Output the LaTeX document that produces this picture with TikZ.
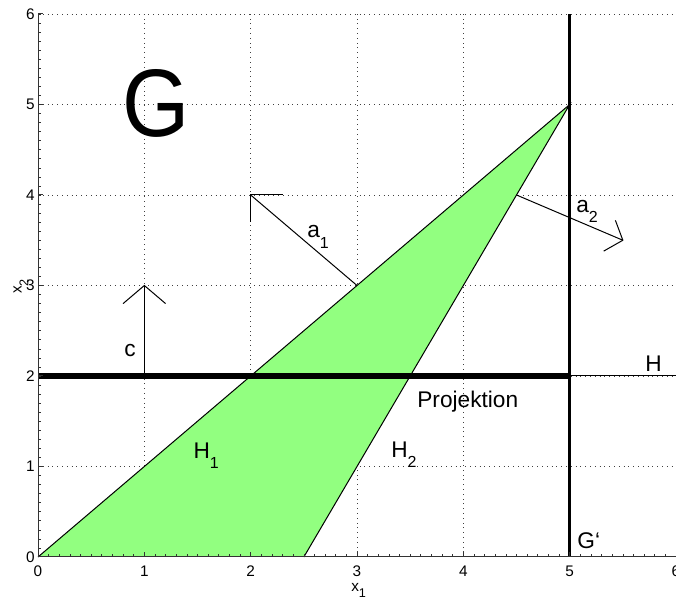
\documentclass[tikz,border=0pt]{standalone}
\usepackage{fontspec}
\setmainfont{Liberation Sans}
\definecolor{fillgreen}{RGB}{146,255,128}
\newcommand\lowsub[2]{\raisebox{-0.45em}{\fontsize{#1}{#1}\selectfont #2}}
\begin{document}
\begin{tikzpicture}[x=79.75pt,y=67.875pt,
  gridline/.style={draw=black!75, line width=0.6pt, dash pattern=on 0.6pt off 3pt},
  axisline/.style={draw=black!80, line width=0.75pt},
  vecline/.style={draw=black, line width=0.75pt},
  lbl/.style={inner sep=0pt, anchor=base west, font=\fontsize{17}{20}\selectfont},
  ticklbl/.style={inner sep=0pt, font=\fontsize{11.5}{13}\selectfont}]
\useasboundingbox (-0.3574,-0.4862) rectangle (6,6.1547);
% grid
\foreach \k in {1,...,6} {
  \draw[gridline] (\k,0) -- (\k,6);
  \draw[gridline] (0,\k) -- (6,\k);
}
% big G
\node[inner sep=0pt, font=\fontsize{72}{80}\selectfont, xscale=0.9] (bigG) at (1.11,5.01) {G};
% feasible region
\fill[fillgreen] (0,0) -- (5,5) -- (2.5,0) -- cycle;
\coordinate (O) at (0,0);
\coordinate (P) at (5,5);
\coordinate (Q) at (2.5,0);
\draw[vecline] (O) -- (P) -- (Q);
% thick lines
\coordinate (hl) at (0,2);
\coordinate (hm) at (5,2);
\coordinate (hr) at (6,2);
\draw[line width=4.5pt] (hl) -- (hm);
\draw[vecline] (hm) -- (hr);
\coordinate (gb) at (5,0);
\coordinate (gt) at (5,6);
\draw[line width=2.25pt] (gb) -- (gt);
% vector c
\coordinate (cs) at (1,2);
\coordinate (ct) at (1,3);
\coordinate (cl) at (0.8,2.8);
\coordinate (cr) at (1.2,2.8);
\draw[vecline] (cs) -- (ct);
\draw[vecline] (cl) -- (ct) -- (cr);
% vector a1
\coordinate (as) at (3,3);
\coordinate (at1) at (2,4);
\coordinate (aw1) at (2.3,4);
\coordinate (aw2) at (2,3.7);
\draw[vecline] (as) -- (at1);
\draw[vecline] (aw1) -- (at1) -- (aw2);
% vector a2
\coordinate (bs) at (4.5,4);
\coordinate (bt) at (5.5,3.5);
\coordinate (bw1) at (5.43,3.72);
\coordinate (bw2) at (5.32,3.38);
\draw[vecline] (bs) -- (bt);
\draw[vecline] (bw1) -- (bt) -- (bw2);
% axes
\draw[axisline] (0,6) -- (0,0) -- (6,0);
\foreach \i in {1,...,60} {
  \draw[axisline, line width=0.5pt] (\i/10,0) -- ++(0,2pt);
  \draw[axisline, line width=0.5pt] (0,\i/10) -- ++(2pt,0);
}
\foreach \k in {0,...,6} {
  \draw[axisline] (\k,0) -- ++(0,3.75pt);
  \draw[axisline] (0,\k) -- ++(3.75pt,0);
  \node[ticklbl, anchor=east] (yt\k) at ([xshift=-2.25pt]0,\k) {\k};
  \node[ticklbl, anchor=north] (xt\k) at ([yshift=-6.75pt]\k,0) {\k};
}
\node[ticklbl, anchor=base west] (xlab) at (2.944,-0.376) {x\lowsub{9.5}{1}};
\node[ticklbl, rotate=90] (ylab) at (-0.16,2.99) {x\lowsub{9.5}{2}};
% labels
\node[lbl] (la1) at (2.53,3.525) {a\lowsub{12}{1}};
\node[lbl] (la2) at (5.06,3.81) {a\lowsub{12}{2}};
\node[lbl] (lc) at (0.81,2.21) {c};
\node[lbl] (lh1) at (1.46,1.09) {H\lowsub{12}{1}};
\node[lbl] (lh2) at (3.32,1.10) {H\lowsub{12}{2}};
\node[lbl] (lproj) at (3.565,1.657) {Projektion};
\node[lbl] (lh) at (5.71,2.055) {H};
\node[lbl] (lg) at (5.07,0.09) {G‘};
\end{tikzpicture}
\end{document}
